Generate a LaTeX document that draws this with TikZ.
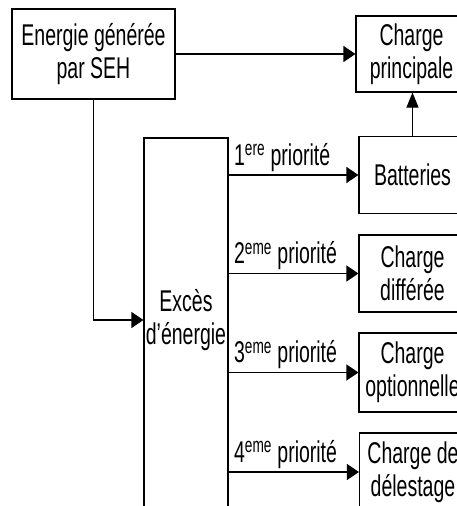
\documentclass[tikz,border=0pt]{standalone}
\usepackage{fontspec}
\setmainfont{Liberation Sans}[FakeStretch=0.65]
\usetikzlibrary{arrows.meta}

\begin{document}
\begin{tikzpicture}[x=1pt, y=-1pt,
    font=\fontsize{30}{33}\selectfont,
    boite/.style={draw, line width=1.1pt, inner sep=0pt, align=center},
    fleche/.style={line width=1.1pt, -{Triangle[length=12pt,width=16pt]}},
    flechehaut/.style={line width=1.1pt, -{Triangle[length=15pt,width=12pt]}},
    prio/.style={anchor=base west, inner sep=0pt, xshift=5pt, yshift=10pt}]
    \useasboundingbox (0,0) rectangle (457,506);
    \clip (0,0) rectangle (457,506);
    % boites
    \node [boite, minimum width=163pt, minimum height=90pt] (seh) at (93.5,54) {Energie générée\\par SEH};
    \node [boite, minimum width=111pt, minimum height=76pt] (princ) at (411.5,54) {Charge\\principale};
    \node [boite, minimum width=84pt, minimum height=400pt] (exces) at (186,338) {};
    \node [align=center, inner sep=0pt] (excestxt) at (186,320) {Excès\\d’énergie};
    \node [boite, minimum width=107pt, minimum height=77pt] (batt) at (412.5,175) {Batteries};
    \node [boite, minimum width=107pt, minimum height=77pt] (diff) at (412.5,273.5) {Charge\\différée};
    \node [boite, minimum width=107pt, minimum height=79pt] (opt) at (412.5,372.5) {Charge\\optionnelle};
    \node [boite, minimum width=107pt, minimum height=78pt] (deles) at (413,472) {Charge de\\délestage};
    % fleches
    \draw [fleche] (seh.east) -- (princ.west);
    \draw [fleche] (seh.south) |- (excestxt -| exces.west);
    \draw [flechehaut] (batt.north) -- (batt.north |- princ.south);
    \draw [fleche] (exces.east |- batt.west) -- node [prio, at start] {1\textsuperscript{ere} priorité} (batt.west);
    \draw [fleche] (exces.east |- diff.west) -- node [prio, at start] {2\textsuperscript{eme} priorité} (diff.west);
    \draw [fleche] (exces.east |- opt.west) -- node [prio, at start] {3\textsuperscript{eme} priorité} (opt.west);
    \draw [fleche] (exces.east |- deles.west) -- node [prio, at start] {4\textsuperscript{eme} priorité} (deles.west);
\end{tikzpicture}
\end{document}
